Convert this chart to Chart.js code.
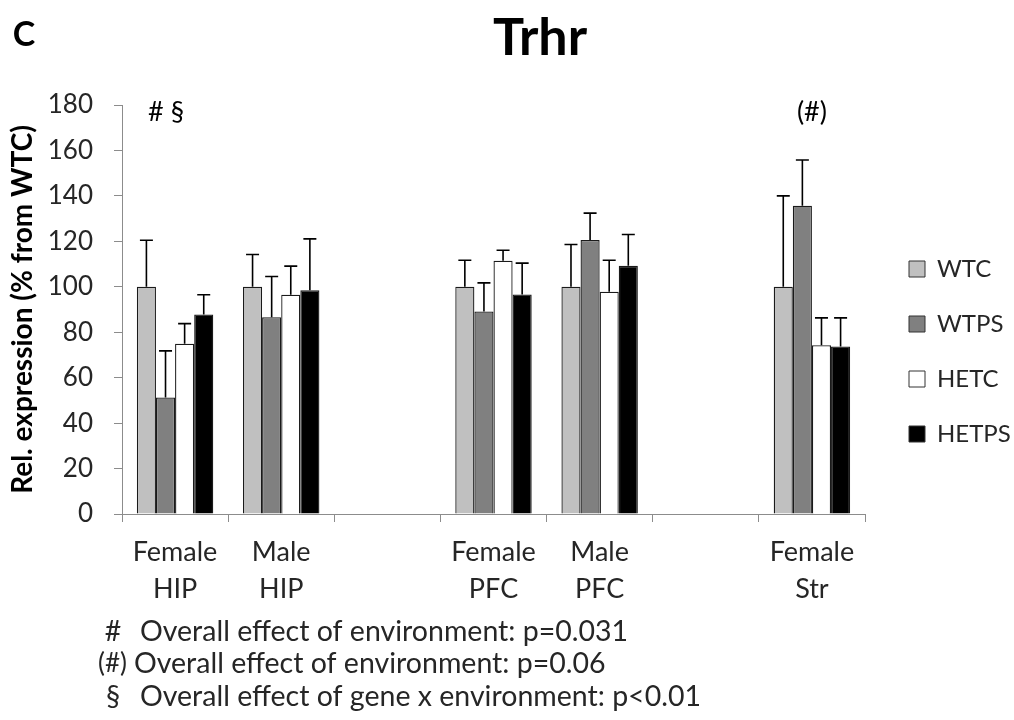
<!DOCTYPE html>
<html>
<head>
<meta charset="utf-8">
<script src="https://cdn.jsdelivr.net/npm/chart.js@4.4.1/dist/chart.umd.min.js"></script>
<style>
  html, body { margin: 0; padding: 0; background: #fff; }
  #wrap { width: 1014px; height: 720px; position: relative; }
</style>
</head>
<body>
<div id="wrap"><canvas id="c" width="1014" height="720"></canvas></div>
<script>
// ---- data ----
const categories = [['Female', 'HIP'], ['Male', 'HIP'], '', ['Female', 'PFC'], ['Male', 'PFC'], '', ['Female', 'Str']];
const seriesNames = ['WTC', 'WTPS', 'HETC', 'HETPS'];
const wtc   = [100, 100, null, 100, 100, null, 100];
const wtps  = [51.3, 86.6, null, 89.1, 120.6, null, 135.7];
const hetc  = [74.9, 96.5, null, 111.5, 97.8, null, 74.3];
const hetps = [87.8, 98.5, null, 96.6, 109.2, null, 73.7];
const wtcErr   = [20.5, 14.2, null, 11.7, 18.6, null, 40.0];
const wtpsErr  = [20.5, 17.9, null, 12.6, 11.8, null, 20.1];
const hetcErr  = [8.9, 12.6, null, 4.6, 13.9, null, 12.0];
const hetpsErr = [8.7, 22.6, null, 13.8, 13.8, null, 12.6];
const yTicks = [0, 20, 40, 60, 80, 100, 120, 140, 160, 180];
const footnotes = [
  ['#', 'Overall effect of environment: p=0.031'],
  ['(#)', 'Overall effect of environment: p=0.06'],
  ['§', 'Overall effect of gene x environment: p<0.01']
];
const significance = [[0, '# §', -9], [6, '(#)', 0]];

const FONT = 'Lato, "Open Sans", sans-serif';
const TXT = '#262626';

const errorBars = {
  id: 'errorBars',
  afterDatasetsDraw(chart) {
    const ctx = chart.ctx;
    const y = chart.scales.y;
    chart.data.datasets.forEach((ds, i) => {
      const meta = chart.getDatasetMeta(i);
      meta.data.forEach((bar, j) => {
        const v = ds.data[j], e = ds.errors[j];
        if (v == null || e == null) return;
        const top = y.getPixelForValue(v + e);
        ctx.save();
        ctx.strokeStyle = '#000';
        ctx.lineWidth = 1.6;
        ctx.beginPath();
        ctx.moveTo(bar.x, bar.y);
        ctx.lineTo(bar.x, top);
        ctx.moveTo(bar.x - 6.5, top);
        ctx.lineTo(bar.x + 6.5, top);
        ctx.stroke();
        ctx.restore();
      });
    });
  }
};

const texts = {
  id: 'texts',
  afterDraw(chart) {
    const ctx = chart.ctx;
    const x = chart.scales.x;
    ctx.save();
    ctx.fillStyle = '#000';
    ctx.textBaseline = 'middle';
    ctx.textAlign = 'center';
    ctx.font = 'bold 34px ' + FONT;
    ctx.fillText('C', 24, 35);
    ctx.font = 'bold 52px ' + FONT;
    ctx.fillText('Trhr', 540, 38);
    ctx.font = '27px ' + FONT;
    significance.forEach(([idx, s, dx]) => {
      ctx.fillText(s, x.getPixelForValue(idx) + dx, 112);
    });
    ctx.fillStyle = TXT;
    const rows = [632, 664, 697];
    footnotes.forEach(([sym, t], i) => {
      ctx.font = '28.5px ' + FONT;
      if (i === 1) {
        ctx.font = '26px ' + FONT;
        ctx.textAlign = 'right';
        ctx.fillText(sym, 127, rows[i]);
      } else {
        ctx.textAlign = 'center';
        ctx.fillText(sym, 113, rows[i]);
      }
      ctx.font = '28.5px ' + FONT;
      ctx.textAlign = 'left';
      ctx.fillText(t, i === 1 ? 134 : 140, rows[i]);
    });
    ctx.restore();
  }
};

const colors = ['#c0c0c0', '#808080', '#ffffff', '#000000'];
const values = [wtc, wtps, hetc, hetps];
const errs = [wtcErr, wtpsErr, hetcErr, hetpsErr];

new Chart(document.getElementById('c'), {
  type: 'bar',
  data: {
    labels: categories,
    datasets: seriesNames.map((n, i) => ({
      label: n,
      data: values[i],
      errors: errs[i],
      backgroundColor: colors[i],
      borderColor: '#1a1a1a',
      borderWidth: 1.3,
      barPercentage: 1.0,
      categoryPercentage: 0.72
    }))
  },
  options: {
    responsive: false,
    animation: false,
    devicePixelRatio: 1,
    layout: { padding: { top: 95, bottom: 112, left: 2, right: 0 } },
    plugins: {
      title: { display: true, text: '', fullSize: false, font: { size: 10, lineHeight: 1 }, padding: 0 },
      tooltip: { enabled: false },
      legend: {
        position: 'right',
        align: 'center',
        maxWidth: 136,
        labels: {
          font: { family: FONT, size: 24 },
          color: TXT,
          boxWidth: 16,
          boxHeight: 16,
          padding: 31,
          generateLabels(chart) {
            return chart.data.datasets.map((ds, i) => ({
              text: ds.label,
              fillStyle: ds.backgroundColor,
              strokeStyle: '#333',
              lineWidth: 1,
              fontColor: TXT,
              datasetIndex: i
            }));
          }
        }
      }
    },
    scales: {
      x: {
        offset: true,
        afterFit(axis) { axis.height = 94; },
        grid: { display: true, drawOnChartArea: false, drawTicks: true, tickLength: 8, color: '#8c8c8c', offset: true },
        border: { display: true, color: '#8c8c8c', width: 1 },
        ticks: { font: { family: FONT, size: 27, lineHeight: 1.37 }, color: TXT, padding: 12, maxRotation: 0, autoSkip: false }
      },
      y: {
        min: 0, max: 180,
        afterBuildTicks(axis) { axis.ticks = yTicks.map(v => ({ value: v })); },
        afterFit(axis) { axis.width = 120; },
        grid: { display: true, drawOnChartArea: false, drawTicks: true, tickLength: 8, color: '#8c8c8c' },
        border: { display: true, color: '#8c8c8c', width: 1 },
        ticks: { font: { family: FONT, size: 26 }, color: TXT, padding: 21 },
        title: {
          display: true,
          text: 'Rel. expression (% from WTC)',
          font: { family: FONT, size: 28, weight: 'bold' },
          color: '#000',
          padding: { top: 4, bottom: 10 }
        }
      },
      yR: {
        type: 'linear',
        position: 'right',
        display: true,
        grid: { display: false, drawTicks: false },
        border: { display: false },
        ticks: { display: false },
        afterFit(axis) { axis.width = 13; }
      }
    }
  },
  plugins: [errorBars, texts]
});
</script>
</body>
</html>
